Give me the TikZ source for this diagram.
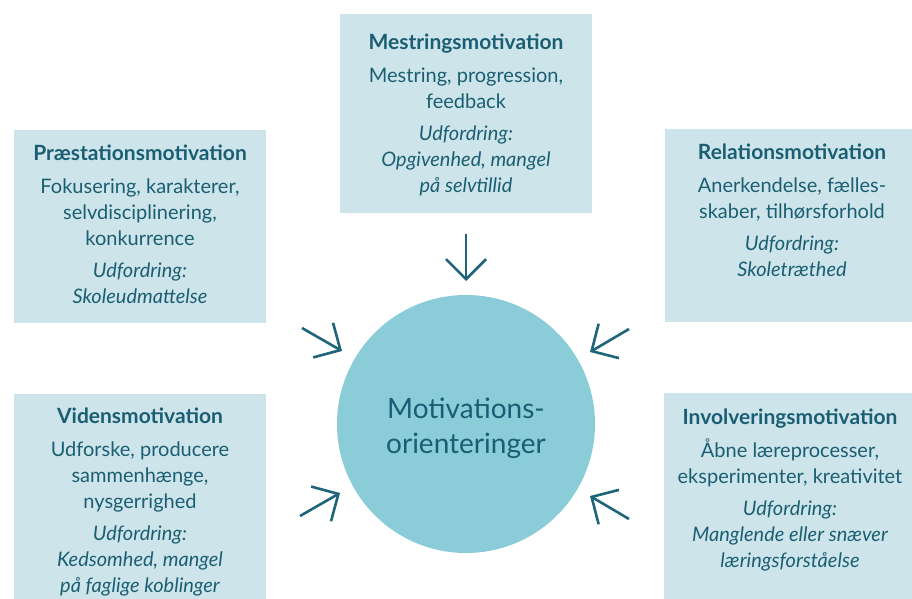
\documentclass[tikz,border=0pt]{standalone}
\usepackage{fontspec}
\setmainfont{Lato}
\usetikzlibrary{arrows.meta}
\definecolor{boxfill}{HTML}{CDE5EA}
\definecolor{circfill}{HTML}{8BCCD9}
\definecolor{ink}{HTML}{1B5E73}
\definecolor{arrowink}{HTML}{1F6479}
\tikzset{
  box/.style={fill=boxfill, draw=none, inner sep=0pt},
  boxtext/.style={text=ink, align=center, inner sep=0pt, anchor=north,
    font=\fontsize{20}{26}\selectfont},
  hub/.style={circle, fill=circfill, draw=none, minimum size=258pt, inner sep=0pt},
  hubtext/.style={text=ink, align=center, inner sep=0pt, font=\fontsize{28}{35}\selectfont},
  inarrow/.style={draw=arrowink, line width=2.6pt,
    -{Straight Barb[length=20pt,width=40pt,line width=2.6pt]}},
}
\newcommand{\ttl}[1]{{\fontsize{21}{26}\selectfont\bfseries #1}}
\newcommand{\gapp}{\\[6pt]}
\begin{document}
\begin{tikzpicture}[x=1pt,y=-1pt]
\useasboundingbox (0,0) rectangle (912,599);
% boxes
\path[box] (340,14) rectangle (592,213) node[pos=0.5] (bm) {};
\path[box] (14,130) rectangle (266,323) node[pos=0.5] (bp) {};
\path[box] (665,129) rectangle (912,322) node[pos=0.5] (br) {};
\path[box] (14,394) rectangle (266,599) node[pos=0.5] (bv) {};
\path[box] (664,393) rectangle (912,599) node[pos=0.5] (bi) {};
% texts
\node[boxtext] (tm) at (466,34) {\ttl{Mestringsmotivation}\\[7pt]Mestring, progression,\\feedback\gapp
  \itshape Udfordring:\\\itshape Opgivenhed, mangel\\\itshape på selvtillid};
\node[boxtext] (tp) at (140,145) {\ttl{Præstationsmotivation}\\[7pt]Fokusering, karakterer,\\selvdisciplinering,\\konkurrence\gapp
  \itshape Udfordring:\\\itshape Skoleudmattelse};
\node[boxtext] (tr) at (792,144) {\ttl{Relationsmotivation}\\[7pt]Anerkendelse, fælles-\\skaber, tilhørsforhold\gapp
  \itshape Udfordring:\\\itshape Skoletræthed};
\node[boxtext] (tv) at (140,408) {\ttl{Vidensmotivation}\\[7pt]Udforske, producere\\sammenhænge,\\nysgerrighed\gapp
  \itshape Udfordring:\\\itshape Kedsomhed, mangel\\\itshape på faglige koblinger};
\node[boxtext] (ti) at (790,409) {\ttl{Involveringsmotivation}\\[7pt]Åbne læreprocesser,\\eksperimenter, kreativitet\gapp
  \itshape Udfordring:\\\itshape Manglende eller snæver\\\itshape læringsforståelse};
% hub
\node[hub] (hub) at (466,424) {};
\node[hubtext] (hubt) at (466,428) {Motivations-\\orienteringer};
% arrow coordinates
\coordinate (a1s) at (466,234); \coordinate (a1e) at (466,281);
\coordinate (a2s) at (302,328); \coordinate (a2e) at (342,351);
\coordinate (a3s) at (629,329); \coordinate (a3e) at (590,352);
\coordinate (a4s) at (300,516); \coordinate (a4e) at (340,493);
\coordinate (a5s) at (629,519); \coordinate (a5e) at (590,496);
\draw[inarrow] (a1s) -- (a1e);
\draw[inarrow] (a2s) -- (a2e);
\draw[inarrow] (a3s) -- (a3e);
\draw[inarrow] (a4s) -- (a4e);
\draw[inarrow] (a5s) -- (a5e);
\end{tikzpicture}
\end{document}
